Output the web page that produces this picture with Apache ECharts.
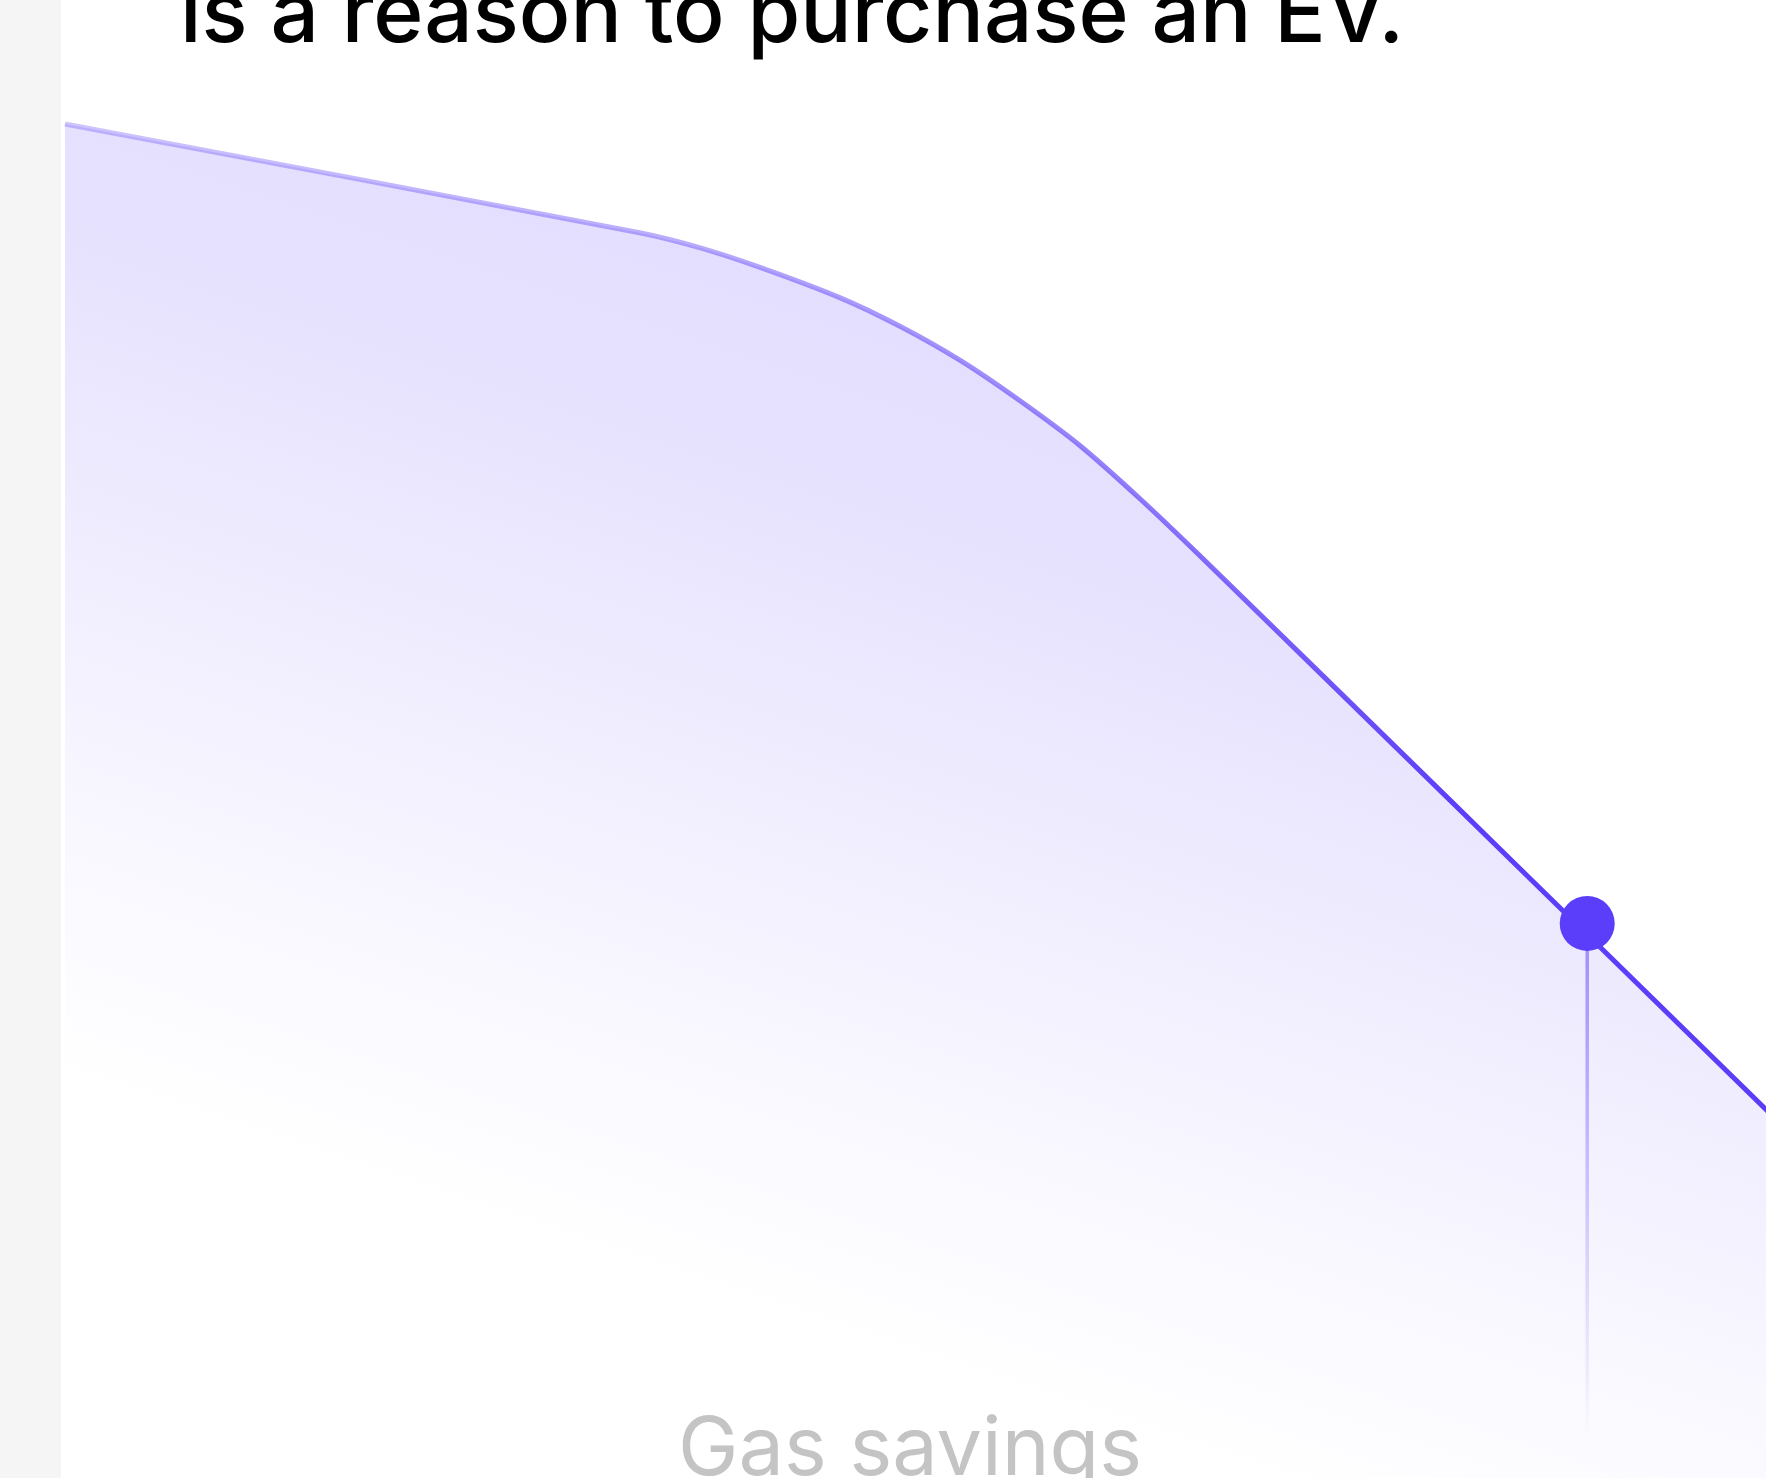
<!DOCTYPE html>
<html>
<head>
<meta charset="utf-8">
<script src="https://cdn.jsdelivr.net/npm/echarts@6/dist/echarts.min.js"></script>
<style>
  html, body { margin: 0; padding: 0; background: #fff; }
  #chart { width: 1766px; height: 1478px; }
</style>
</head>
<body>
<div id="chart"></div>
<script>
// values (x: 0..100 across the plot, y: 0..100 share)
const curveX = [0, 33.1, 36.6, 40.0, 44.6, 48.1, 51.6, 55.0, 58.5, 61.9, 65.4, 79.6, 87.7, 100];
const curveY = [100, 92.1, 91.0, 89.6, 87.4, 85.3, 82.8, 79.9, 76.6, 72.8, 68.6, 51.1, 41.1, 25.9];
const pointX = [87.7];
const pointY = [41.9];
const dropEndY = [4.5];
const headline = 'is a reason to purchase an EV.';
const stageLabel = 'Gas savings';

const PURPLE = '#5b3ef9';

function initChart() {
    const dom = document.getElementById('chart');
    const chart = echarts.init(dom);

    const curve = curveX.map((x, i) => [x, curveY[i]]);
    const dot = pointX.map((x, i) => [x, pointY[i]]);
    const drop = [[pointX[0], pointY[0]], [pointX[0], dropEndY[0]]];

    const option = {
        animation: false,
        backgroundColor: '#ffffff',
        // the page is a crop: the plot goes on past the right and bottom edges
        grid: { left: 65, right: 0, top: 124, bottom: 0 },
        xAxis: { type: 'value', min: 0, max: 98, show: false },
        yAxis: { type: 'value', min: 1.6, max: 100, show: false },
        graphic: [
            {
                type: 'rect',
                left: 0, top: 0,
                shape: { width: 61, height: 1478 },
                style: { fill: '#f5f5f5' },
                z: 10
            },
            {
                type: 'text',
                x: 180, y: 16,
                style: {
                    text: headline,
                    font: '500 85.5px Inter',
                    fill: '#000000',
                    verticalAlign: 'middle'
                },
                z: 10
            },
            {
                type: 'text',
                x: 910, y: 1451,
                style: {
                    text: stageLabel,
                    font: '400 81px Inter',
                    fill: '#c4c4c4',
                    align: 'center',
                    verticalAlign: 'middle'
                },
                z: 10
            }
        ],
        series: [
            {
                type: 'line',
                data: curve,
                smooth: 0.22,
                symbol: 'none',
                z: 2,
                lineStyle: {
                    width: 5,
                    join: 'round',
                    color: new echarts.graphic.LinearGradient(0, 0, 1, 0, [
                        { offset: 0, color: 'rgba(91,62,249,0.3)' },
                        { offset: 0.35, color: 'rgba(91,62,249,0.42)' },
                        { offset: 0.6, color: 'rgba(91,62,249,0.65)' },
                        { offset: 0.8, color: 'rgba(91,62,249,1)' },
                        { offset: 1, color: 'rgba(91,62,249,1)' }
                    ])
                },
                areaStyle: {
                    color: new echarts.graphic.LinearGradient(0.63, 0, 0.37, 1, [
                        { offset: 0, color: 'rgba(91,62,249,0.27)' },
                        { offset: 0.3, color: 'rgba(91,62,249,0.22)' },
                        { offset: 0.5, color: 'rgba(91,62,249,0.14)' },
                        { offset: 0.7, color: 'rgba(91,62,249,0.06)' },
                        { offset: 0.88, color: 'rgba(91,62,249,0)' }
                    ])
                }
            },
            {
                type: 'line',
                data: drop,
                symbol: 'none',
                z: 3,
                lineStyle: {
                    width: 3.5,
                    color: new echarts.graphic.LinearGradient(0, 0, 0, 1, [
                        { offset: 0, color: 'rgba(91,62,249,0.55)' },
                        { offset: 1, color: 'rgba(91,62,249,0)' }
                    ])
                }
            },
            {
                type: 'scatter',
                data: dot,
                symbolSize: 55,
                z: 4,
                itemStyle: { color: PURPLE, opacity: 1 }
            }
        ]
    };
    chart.setOption(option);
}

initChart();
</script>
</body>
</html>
